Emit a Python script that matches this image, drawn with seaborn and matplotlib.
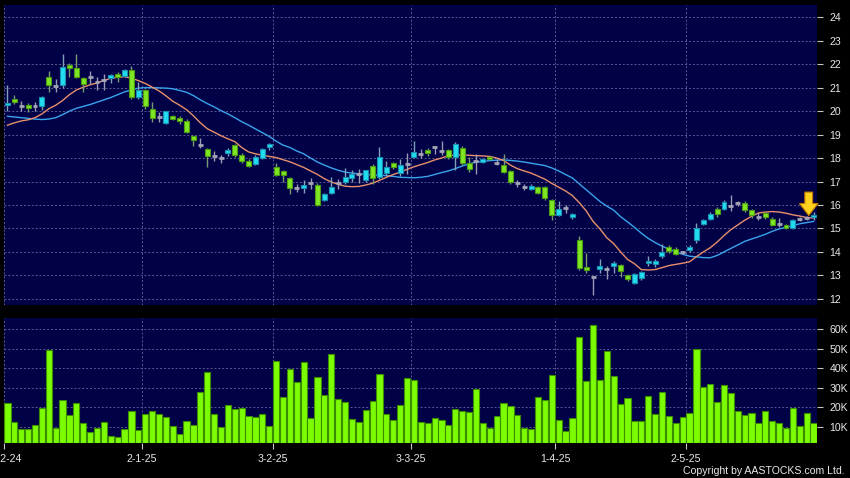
import numpy as np
import matplotlib
matplotlib.use("Agg")
import matplotlib.pyplot as plt
import seaborn as sns
from matplotlib import font_manager
from matplotlib.ticker import FuncFormatter

# daily candles, 2 Dec 2024 -> end of May 2025 (trading days only)
opens = [20.25, 20.50, 20.22, 20.25, 20.21, 20.20, 21.47, 21.09, 21.12, 21.92,
         21.83, 21.40, 21.48, 21.27, 21.34, 21.45, 21.60, 21.50, 21.73, 20.62,
         20.90, 20.08, 19.75, 19.49, 19.80, 19.70, 19.59, 18.95, 18.58, 18.38,
         18.09, 18.02, 18.22, 18.54, 18.14, 17.86, 17.73, 18.00, 18.47, 17.62,
         17.45, 17.17, 16.73, 16.72, 16.94, 16.86, 16.23, 16.50, 16.94, 16.96,
         17.16, 17.34, 17.07, 17.67, 17.18, 17.38, 17.78, 17.35, 17.76, 18.04,
         18.17, 18.35, 18.47, 18.29, 18.35, 18.04, 18.43, 17.78, 17.90, 17.88,
         18.02, 17.83, 17.72, 17.43, 16.95, 16.78, 16.69, 16.76, 16.76, 16.22,
         15.58, 15.87, 15.52, 14.50, 13.33, 12.96, 13.28, 13.24, 13.42, 13.44,
         13.00, 12.69, 12.87, 13.53, 13.48, 13.83, 14.22, 14.12, 13.99, 14.07,
         14.50, 15.20, 15.40, 15.84, 15.85, 15.97, 16.11, 16.08, 15.77, 15.52,
         15.68, 15.40, 15.21, 15.15, 15.03, 15.38, 15.43, 15.50]
highs = [21.10, 20.70, 20.45, 20.35, 20.40, 20.65, 21.70, 21.35, 22.45, 22.05,
         22.45, 21.45, 21.70, 21.47, 21.60, 21.60, 21.65, 21.80, 21.93, 21.25,
         20.95, 20.40, 19.95, 20.00, 19.85, 19.78, 19.65, 19.00, 18.85, 18.42,
         18.30, 18.15, 18.42, 18.60, 18.20, 17.95, 18.15, 18.42, 18.66, 17.80,
         17.50, 17.20, 16.90, 17.07, 17.16, 16.93, 16.50, 17.18, 17.11, 17.56,
         17.50, 17.54, 17.50, 17.75, 18.46, 17.87, 17.85, 17.96, 18.20, 18.74,
         18.39, 18.42, 18.53, 18.72, 18.40, 18.68, 18.50, 18.06, 18.17, 18.00,
         18.10, 17.95, 18.17, 17.50, 17.05, 16.90, 16.88, 16.80, 16.80, 16.25,
         16.19, 16.00, 15.68, 14.70, 13.97, 12.98, 13.70, 13.40, 13.60, 13.48,
         13.05, 13.10, 13.18, 13.82, 13.72, 14.35, 14.28, 14.20, 14.05, 14.30,
         15.24, 15.40, 15.70, 15.90, 16.22, 16.43, 16.18, 16.15, 15.82, 15.65,
         15.72, 15.50, 15.43, 15.20, 15.40, 15.50, 15.55, 15.72]
lows = [20.00, 20.30, 20.00, 19.95, 20.00, 20.05, 20.80, 20.80, 21.00, 21.45,
        21.40, 20.80, 21.15, 20.90, 20.90, 21.20, 21.25, 21.45, 20.50, 20.50,
        20.10, 19.52, 19.55, 19.45, 19.60, 19.45, 19.05, 18.50, 18.42, 17.62,
        17.86, 17.80, 18.10, 18.05, 17.80, 17.62, 17.70, 17.95, 18.35, 17.25,
        17.00, 16.45, 16.55, 16.50, 16.69, 15.95, 16.15, 16.45, 16.69, 16.90,
        16.96, 16.95, 17.00, 16.90, 17.10, 17.22, 17.55, 17.25, 17.33, 18.00,
        17.99, 18.10, 18.18, 18.11, 17.95, 17.50, 17.70, 17.40, 17.33, 17.80,
        17.90, 17.70, 17.35, 16.90, 16.75, 16.65, 16.62, 16.45, 16.22, 15.37,
        15.55, 15.65, 15.40, 13.25, 13.10, 12.17, 13.10, 12.85, 13.10, 12.95,
        12.75, 12.62, 12.80, 13.40, 13.35, 13.75, 13.95, 13.88, 13.90, 14.00,
        14.38, 15.15, 15.35, 15.50, 15.80, 15.75, 15.95, 15.70, 15.45, 15.38,
        15.40, 15.10, 15.06, 14.98, 14.98, 15.30, 15.35, 15.38]
closes = [20.35, 20.42, 20.20, 20.15, 20.20, 20.60, 21.12, 21.08, 21.90, 21.88,
          21.47, 21.15, 21.47, 21.26, 21.33, 21.48, 21.47, 21.76, 20.62, 20.90,
          20.20, 19.70, 19.74, 19.99, 19.66, 19.56, 19.09, 18.78, 18.57, 18.07,
          18.08, 18.00, 18.35, 18.14, 17.88, 17.68, 18.04, 18.38, 18.60, 17.29,
          17.26, 16.74, 16.72, 16.87, 16.93, 15.98, 16.45, 16.76, 16.93, 17.21,
          17.30, 17.33, 17.47, 17.16, 18.06, 17.60, 17.61, 17.72, 17.75, 18.26,
          18.16, 18.22, 18.46, 18.28, 18.04, 18.60, 17.78, 17.54, 17.89, 17.92,
          17.98, 17.80, 17.40, 16.97, 16.94, 16.76, 16.83, 16.50, 16.30, 15.58,
          15.85, 15.86, 15.57, 13.33, 13.25, 12.95, 13.42, 13.26, 13.53, 13.20,
          12.86, 13.06, 13.14, 13.62, 13.62, 14.00, 14.03, 13.92, 13.98, 14.21,
          15.00, 15.37, 15.61, 15.61, 16.12, 15.96, 16.10, 15.77, 15.57, 15.51,
          15.48, 15.14, 15.20, 15.05, 15.34, 15.40, 15.45, 15.56]

# short (orange) and long (blue) moving averages as drawn on the chart
ma_short = [19.40, 19.50, 19.58, 19.63, 19.72, 19.88, 20.10, 20.25, 20.45, 20.70,
            20.90, 21.02, 21.12, 21.20, 21.30, 21.40, 21.44, 21.47, 21.40, 21.30,
            21.18, 21.02, 20.86, 20.65, 20.42, 20.25, 20.06, 19.80, 19.50, 19.25,
            19.10, 18.95, 18.82, 18.70, 18.45, 18.26, 18.18, 18.12, 18.07, 18.02,
            17.93, 17.84, 17.72, 17.60, 17.45, 17.30, 17.12, 16.98, 16.88, 16.80,
            16.78, 16.79, 16.85, 16.93, 17.05, 17.18, 17.30, 17.40, 17.52, 17.63,
            17.72, 17.81, 17.92, 18.00, 18.10, 18.13, 18.13, 18.12, 18.10, 18.09,
            18.07, 18.00, 17.90, 17.70, 17.55, 17.45, 17.36, 17.23, 17.10, 16.92,
            16.76, 16.60, 16.40, 16.10, 15.75, 15.30, 14.98, 14.60, 14.35, 14.00,
            13.68, 13.50, 13.25, 13.23, 13.25, 13.33, 13.42, 13.47, 13.52, 13.58,
            13.80, 14.00, 14.18, 14.42, 14.70, 14.95, 15.15, 15.35, 15.52, 15.66,
            15.70, 15.72, 15.70, 15.65, 15.58, 15.53, 15.47, 15.45]
ma_long = [19.78, 19.75, 19.72, 19.69, 19.66, 19.64, 19.66, 19.72, 19.85, 20.00,
           20.12, 20.20, 20.28, 20.38, 20.48, 20.58, 20.70, 20.82, 20.90, 20.98,
           21.00, 21.00, 20.99, 20.98, 20.95, 20.88, 20.80, 20.66, 20.48, 20.32,
           20.18, 20.02, 19.88, 19.72, 19.55, 19.40, 19.24, 19.08, 18.92, 18.72,
           18.55, 18.45, 18.30, 18.18, 18.00, 17.83, 17.70, 17.58, 17.48, 17.40,
           17.36, 17.33, 17.30, 17.28, 17.27, 17.25, 17.22, 17.18, 17.17, 17.16,
           17.18, 17.22, 17.30, 17.38, 17.45, 17.55, 17.66, 17.75, 17.82, 17.86,
           17.89, 17.91, 17.92, 17.90, 17.87, 17.83, 17.78, 17.73, 17.68, 17.58,
           17.45, 17.30, 17.15, 16.90, 16.65, 16.40, 16.15, 15.95, 15.78, 15.50,
           15.28, 15.05, 14.80, 14.58, 14.40, 14.25, 14.12, 14.00, 13.90, 13.82,
           13.79, 13.76, 13.75, 13.85, 14.00, 14.15, 14.30, 14.45, 14.55, 14.65,
           14.75, 14.88, 14.98, 15.05, 15.12, 15.20, 15.25, 15.30]

# volume in shares
volume = [22200, 12400, 9000, 9000, 11000, 19900, 49500, 9300, 24000, 16000,
          22400, 11900, 7400, 9700, 12700, 5200, 4700, 8800, 18200, 8500,
          16800, 18300, 16600, 14900, 10700, 6300, 13200, 11000, 27900, 38200,
          16600, 10000, 21400, 19000, 19700, 15800, 14900, 16500, 10300, 44000,
          25600, 39900, 33000, 43300, 14800, 35700, 26300, 47600, 24500, 22800,
          14100, 12700, 18800, 23400, 37000, 16600, 13700, 21100, 35200, 34000,
          12400, 12200, 14800, 13700, 10900, 19200, 18300, 17500, 29400, 12000,
          9700, 15600, 22200, 20900, 16000, 9700, 9100, 25300, 23600, 36400,
          13700, 8000, 14400, 55900, 33600, 62200, 34300, 48800, 36000, 21700,
          24800, 13200, 13200, 26000, 16600, 28000, 15400, 11900, 15100, 17100,
          50100, 30400, 31800, 22900, 31600, 27300, 18000, 16300, 17300, 12200,
          18300, 12900, 12000, 9500, 19500, 10700, 17000, 12000]

# first trading day of each month (index into the series) and its label
month_idx = [0, 20, 39, 59, 80, 99]
month_labels = ["2-12-24", "2-1-25", "3-2-25", "3-3-25", "1-4-25", "2-5-25"]

day_idx = np.arange(len(closes))
o = np.array(opens); c = np.array(closes)
h = np.array(highs); l = np.array(lows)

# font: narrow sans if we have it
names = {f.name for f in font_manager.fontManager.ttflist}
if "Liberation Sans Narrow" in names:
    fam, fs = "Liberation Sans Narrow", 9
else:
    fam, fs = "Liberation Sans", 7.6
plt.rcParams["font.family"] = [fam, "DejaVu Sans"]

bg = "#010148"
grid_c = "#5a5a90"
txt_c = "#e8e8e8"

fig = plt.figure(figsize=(8.5, 4.78), dpi=100, facecolor="black")
ax = fig.add_axes([4 / 850, 1 - 305 / 478, 813 / 850, 300 / 478])
axv = fig.add_axes([4 / 850, 1 - 443 / 478, 813 / 850, 125 / 478])

for a in (ax, axv):
    a.set_facecolor(bg)
    for s in a.spines.values():
        s.set_visible(False)
    a.set_axisbelow(True)
    a.grid(True, color=grid_c, linestyle=(0, (2, 2)), linewidth=0.7)
    a.yaxis.tick_right()
    a.tick_params(axis="y", colors="#c8c8c8", labelcolor=txt_c, labelsize=fs,
                  length=4, width=0.8, pad=5)
    a.set_xticks([i - 0.5 for i in month_idx])

# moving averages
sns.lineplot(x=day_idx, y=ma_long, ax=ax, color="#3aa4ec", linewidth=1.0, zorder=2)
sns.lineplot(x=day_idx, y=ma_short, ax=ax, color="#e8906a", linewidth=1.0, zorder=2)

# candles
w = 0.72
up = c - o >= 0.03
down = o - c >= 0.03
flat = ~(up | down)
wick_col = np.where(up, "#7fa0b8", np.where(down, "#7a9a70", "#9a9ab0"))
ax.vlines(day_idx, l, h, colors=wick_col, linewidth=1.0, zorder=3)

body_lo = np.minimum(o, c)
body_h = np.abs(c - o)
min_h = 0.12
adj = body_h < min_h
body_lo = np.where(adj, (o + c) / 2 - min_h / 2, body_lo)
body_h = np.maximum(body_h, min_h)

ax.bar(day_idx[up], body_h[up], bottom=body_lo[up], width=w,
       color="#22dcf0", edgecolor="#1a8fb0", linewidth=0.8, zorder=4)
ax.bar(day_idx[down], body_h[down], bottom=body_lo[down], width=w,
       color="#7ee622", edgecolor="#4a9a14", linewidth=0.8, zorder=4)
ax.hlines(c[flat], day_idx[flat] - w / 2, day_idx[flat] + w / 2,
          colors="#a4a4b8", linewidth=2.0, zorder=4)

# last-price marker
ax.annotate("", xy=(116.3, 15.55), xytext=(116.3, 16.55),
            arrowprops=dict(arrowstyle="simple,head_length=0.62,head_width=0.95,tail_width=0.4",
                            fc="#ffd21e", ec="#c07800", lw=0.8, mutation_scale=14,
                            shrinkA=0, shrinkB=0), zorder=6)

ax.set_xlim(-0.5, len(closes) - 0.5)
ax.set_ylim(11.74, 24.52)
ax.set_yticks(range(12, 25))
ax.tick_params(axis="x", length=0, labelbottom=False)
ax.set_xlabel("")
ax.set_ylabel("")

# volume
sns.barplot(x=day_idx, y=volume, ax=axv, native_scale=True, width=0.9,
            color="#7cfc00", edgecolor="#3c8c00", linewidth=0.8,
            saturation=1, errorbar=None, zorder=3)
axv.set_xlim(-0.5, len(closes) - 0.5)
axv.set_ylim(1800, 65800)
axv.set_yticks(range(10000, 60001, 10000))
axv.yaxis.set_major_formatter(FuncFormatter(lambda v, p: f"{int(v // 1000)}K"))
axv.set_xticks([i - 0.5 for i in month_idx])
axv.set_xticklabels(month_labels)
axv.tick_params(axis="x", colors="#c8c8c8", labelcolor=txt_c, labelsize=fs,
                length=4, width=0.8, pad=4)
axv.set_xlabel("")
axv.set_ylabel("")

fig.text(845 / 850, 1 - 471 / 478, "Copyright by AASTOCKS.com Ltd.",
         ha="right", va="center", color=txt_c, fontsize=fs)

fig.savefig("out.png", dpi=100, facecolor="black")
